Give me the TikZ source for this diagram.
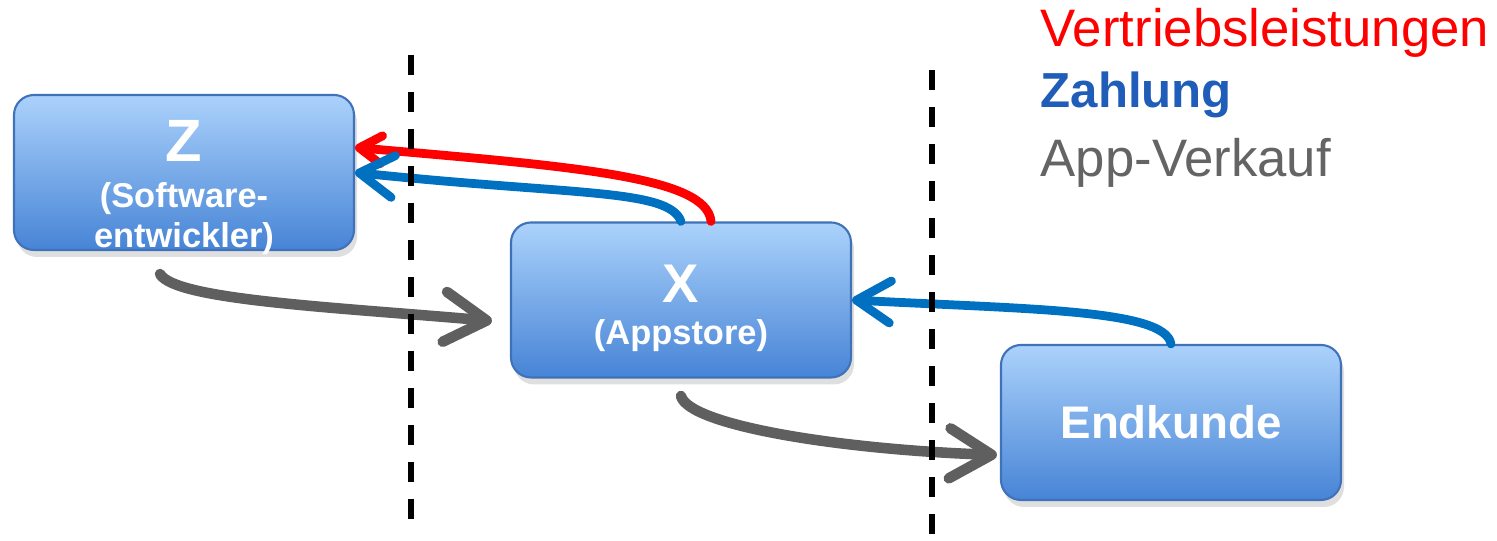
\documentclass[tikz,border=0pt]{standalone}
\usepackage{fontspec}
\setmainfont{Liberation Sans}
\usetikzlibrary{arrows.meta,shadows}

\definecolor{boxtop}{HTML}{ABD2FB}
\definecolor{boxbottom}{HTML}{4784D6}
\definecolor{boxline}{HTML}{3F72B8}
\definecolor{flowred}{HTML}{FF0000}
\definecolor{flowblue}{HTML}{0070C0}
\definecolor{flowgray}{HTML}{5F5F5F}
\definecolor{legblue}{HTML}{1F5DB8}
\definecolor{leggray}{HTML}{646464}

\tikzset{
  party/.style={rounded corners=0.2cm, draw=boxline, line width=0.6pt,
    top color=boxtop, bottom color=boxbottom,
    minimum width=3.4cm, minimum height=1.55cm, inner sep=0pt,
    align=center, text=white, font=\bfseries\fontsize{9.8}{11.4}\selectfont,
    drop shadow={shadow xshift=0.3mm, shadow yshift=-0.7mm, opacity=0.25}},
  service/.style={flowred, line width=2.5pt, line cap=round,
    -{Straight Barb[round,length=2.2mm,width=2.8mm]}},
  payment/.style={flowblue, line width=2.5pt, line cap=round,
    -{Straight Barb[round,length=3.4mm,width=4.2mm]}},
  sale/.style={flowgray, line width=3pt, line cap=round,
    -{Straight Barb[round,length=4.2mm,width=5mm]}},
  border/.style={black, line width=1.7pt, dash pattern=on 2mm off 1.7mm},
  legend/.style={anchor=base west, inner sep=0pt}
}

\begin{document}
\begin{tikzpicture}
\useasboundingbox (0,0) rectangle (14.97,5.41);

% Parties
\node[party] (Z) at (1.84,3.685)
  {{\fontsize{17}{17}\selectfont\rule{0pt}{0.64cm}Z}\\[0.6mm] (Software-\\ \smash{entwickler)}};
\node[party] (X) at (6.81,2.41)
  {{\fontsize{15.5}{15.5}\selectfont\rule{0pt}{0.47cm}X}\\[0.25mm] \smash{(Appstore)}};
\node[party, font=\bfseries\fontsize{13}{15.6}\selectfont] (E) at (11.71,1.185) {Endkunde};

% Vertriebsleistungen and Zahlung
\draw[service] ([xshift=3mm]X.north) to[out=95,in=-5,out distance=0.45cm,in distance=2.2cm] ([yshift=2.5mm]Z.east);
\draw[payment] (X.north) to[out=110,in=-6,out distance=0.35cm,in distance=2.2cm] (Z.east);
\draw[payment] (E.north) to[out=100,in=-3,out distance=0.35cm,in distance=1.8cm] (X.east);

% App-Verkauf
\draw[sale] ([xshift=-2.4mm,yshift=-2.3mm]Z.south) to[out=-60,in=175,out distance=0.3cm,in distance=1.6cm] ([xshift=-1.8mm,yshift=-2.1mm]X.west);
\draw[sale] ([yshift=-1.75mm]X.south) to[out=-75,in=178,out distance=0.3cm,in distance=1.6cm] ([xshift=-0.3mm,yshift=-3.25mm]E.west);

% Borders
\draw[border] (4.11,4.86) -- (4.11,0.15);
\draw[border] (9.32,4.71) -- (9.32,0);

% Legend
\node[legend, text=flowred, font=\fontsize{15}{18}\selectfont] (legvertrieb) at (10.40,4.94) {Vertriebsleistungen};
\node[legend, text=legblue, font=\bfseries\fontsize{14}{17}\selectfont] (legzahlung) at (10.40,4.33) {Zahlung};
\node[legend, text=leggray, font=\fontsize{15}{18}\selectfont] (legverkauf) at (10.40,3.64) {App-Verkauf};
\end{tikzpicture}
\end{document}
